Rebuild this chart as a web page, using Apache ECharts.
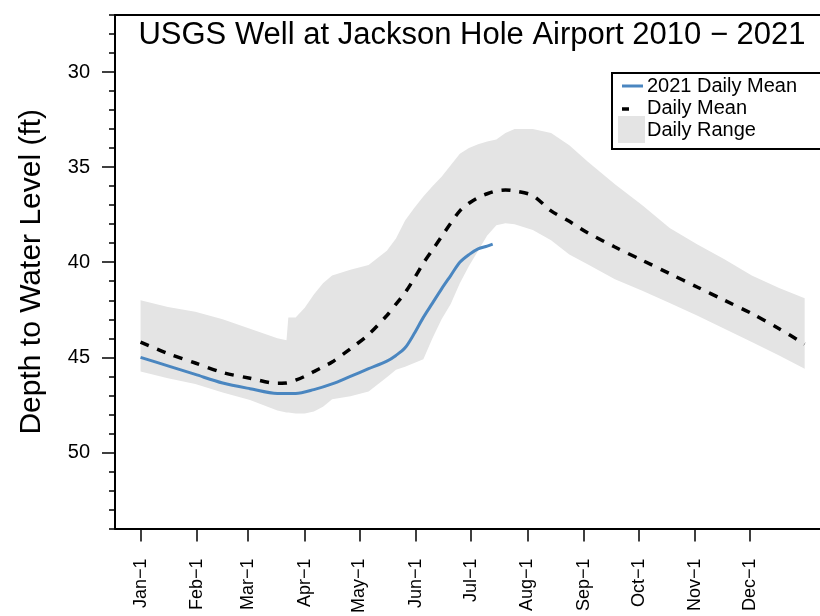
<!DOCTYPE html>
<html><head><meta charset="utf-8">
<script src="https://cdn.jsdelivr.net/npm/echarts@6/dist/echarts.min.js"></script>
<style>html,body{margin:0;padding:0;background:#fff}#c{width:820px;height:616px}</style>
</head><body><div id="c"></div>
<script>
// ---- data (day of year, 0 = Jan 1) ----
const monthLabels = ['Jan\u22121','Feb\u22121','Mar\u22121','Apr\u22121','May\u22121','Jun\u22121','Jul\u22121','Aug\u22121','Sep\u22121','Oct\u22121','Nov\u22121','Dec\u22121'];
const monthDays = [0,31,59,90,120,151,181,212,243,273,304,334];
const depthTicks = [30,35,40,45,50];

const rangeDays    = [0,15,30,45,60,75,80,81,85,90,95,100,105,115,125,135,140,145,150,155,160,165,170,175,180,185,190,195,200,205,215,225,235,245,260,275,290,305,320,335,350,364];
const rangeShallow = [42.0,42.35,42.6,43.0,43.5,44.0,44.1,42.9,42.9,42.4,41.7,41.1,40.7,40.4,40.15,39.4,38.75,37.8,37.15,36.55,36.0,35.5,34.9,34.3,34.0,33.8,33.65,33.55,33.2,33.0,33.0,33.2,33.85,34.7,35.9,37.0,38.2,39.05,39.85,40.7,41.35,41.9];
const rangeDeep    = [45.75,46.1,46.4,46.85,47.25,47.8,47.9,47.9,47.95,47.95,47.85,47.6,47.2,47.05,46.8,46.05,45.65,45.5,45.3,45.1,44.0,43.0,42.2,41.1,40.2,39.4,38.6,38.05,37.95,38.0,38.3,38.85,39.6,40.1,40.9,41.5,42.15,42.8,43.5,44.2,44.9,45.6];
const meanDepth    = [44.2,44.8,45.3,45.8,46.1,46.37,46.35,46.33,46.2,46.0,45.75,45.5,45.25,44.55,43.8,42.8,42.2,41.6,40.85,40.05,39.35,38.65,37.95,37.3,36.9,36.6,36.4,36.25,36.2,36.25,36.5,37.3,37.85,38.45,39.2,39.9,40.6,41.3,42.0,42.7,43.5,44.3];

const days2021  = [0,15,30,45,60,75,85,95,105,115,125,135,140,145,150,155,160,165,170,175,180,185,190,193];
const depth2021 = [45.0,45.45,45.9,46.35,46.65,46.9,46.9,46.7,46.4,46.0,45.6,45.2,44.9,44.5,43.75,42.9,42.15,41.4,40.7,40.0,39.6,39.3,39.15,39.05];

const zip = (a, b) => a.map((v, i) => [v, b[i]]);
const FONT = 'Liberation Sans, Arial, sans-serif';
const minorTicks = [];
for (let v = 27; v <= 54; v++) minorTicks.push(v);

const rangeData = rangeDays.map((d, i) => [d, rangeShallow[i], rangeDeep[i]]);

const chart = echarts.init(document.getElementById('c'), null, {renderer: 'canvas'});
chart.setOption({
  animation: false,
  backgroundColor: '#fff',
  title: {
    text: 'USGS Well at Jackson Hole Airport 2010 \u2212 2021',
    left: 467, top: 15, textAlign: 'center',
    textStyle: {fontFamily: FONT, fontSize: 31, fontWeight: 'normal', color: '#000'}
  },
  grid: {left: 115, top: 15, right: 0, bottom: 84, containLabel: false},
  xAxis: [{
    type: 'value', min: -14, max: 372.4,
    splitLine: {show: false},
    axisLine: {show: true, onZero: false, lineStyle: {color: '#000', width: 2}},
    axisTick: {show: true, customValues: monthDays, length: 13, lineStyle: {color: '#000', width: 1.5}},
    axisLabel: {
      customValues: monthDays, rotate: 90, margin: 30,
      fontFamily: FONT, fontSize: 18, color: '#000',
      formatter: v => monthLabels[monthDays.indexOf(v)] || ''
    }
  }, {
    type: 'value', position: 'top', min: -14, max: 372.4,
    splitLine: {show: false}, axisTick: {show: false}, axisLabel: {show: false},
    axisLine: {show: true, onZero: false, lineStyle: {color: '#000', width: 2}}
  }],
  yAxis: [{
    type: 'value', inverse: true, min: 27, max: 54,
    name: 'Depth to Water Level (ft)', nameLocation: 'middle', nameGap: 68,
    nameTextStyle: {fontFamily: FONT, fontSize: 30, color: '#000'},
    splitLine: {show: false},
    axisLine: {show: true, onZero: false, lineStyle: {color: '#000', width: 2}},
    axisTick: {show: true, customValues: depthTicks, length: 13, lineStyle: {color: '#000', width: 1.5}},
    axisLabel: {customValues: depthTicks, margin: 25, fontFamily: FONT, fontSize: 20, color: '#000'}
  }, {
    type: 'value', inverse: true, min: 27, max: 54, position: 'left',
    splitLine: {show: false}, axisLine: {show: false, onZero: false}, axisLabel: {show: false},
    axisTick: {show: true, customValues: minorTicks, length: 6, lineStyle: {color: '#000', width: 1.5}}
  }],
  series: [{
    name: 'Daily Range', type: 'custom', data: rangeData, silent: true, z: 1,
    encode: {x: 0, y: [1, 2]},
    renderItem: function (params, api) {
      if (params.dataIndex !== 0) return null;
      const top = rangeData.map(r => api.coord([r[0], r[1]]));
      const bot = rangeData.slice().reverse().map(r => api.coord([r[0], r[2]]));
      return {type: 'polygon', shape: {points: top.concat(bot)}, style: {fill: '#e4e4e4'}};
    }
  }, {
    name: 'Daily Mean', type: 'line', data: zip(rangeDays, meanDepth),
    symbol: 'none', smooth: 0.3,
    lineStyle: {color: '#000', width: 3.5, type: [9, 9], cap: 'butt'}, z: 3
  }, {
    name: '2021 Daily Mean', type: 'line', data: zip(days2021, depth2021),
    symbol: 'none', smooth: 0.3,
    lineStyle: {color: '#4a86c0', width: 3}, z: 4
  }],
  graphic: [
    {type: 'rect', shape: {x: 612, y: 73, width: 240, height: 76}, style: {fill: '#fff', stroke: '#000', lineWidth: 2}, z: 10},
    {type: 'line', shape: {x1: 622, y1: 86, x2: 643, y2: 86}, style: {stroke: '#4a86c0', lineWidth: 3}, z: 11},
    {type: 'text', x: 647, y: 86, style: {text: '2021 Daily Mean', fill: '#000', font: '20px ' + FONT, textVerticalAlign: 'middle'}, z: 11},
    {type: 'line', shape: {x1: 622, y1: 109, x2: 629, y2: 109}, style: {stroke: '#000', lineWidth: 3.5}, z: 11},
    {type: 'text', x: 647, y: 108, style: {text: 'Daily Mean', fill: '#000', font: '20px ' + FONT, textVerticalAlign: 'middle'}, z: 11},
    {type: 'rect', shape: {x: 618, y: 116, width: 27, height: 27}, style: {fill: '#e4e4e4'}, z: 11},
    {type: 'text', x: 647, y: 130, style: {text: 'Daily Range', fill: '#000', font: '20px ' + FONT, textVerticalAlign: 'middle'}, z: 11}
  ]
});
</script></body></html>
